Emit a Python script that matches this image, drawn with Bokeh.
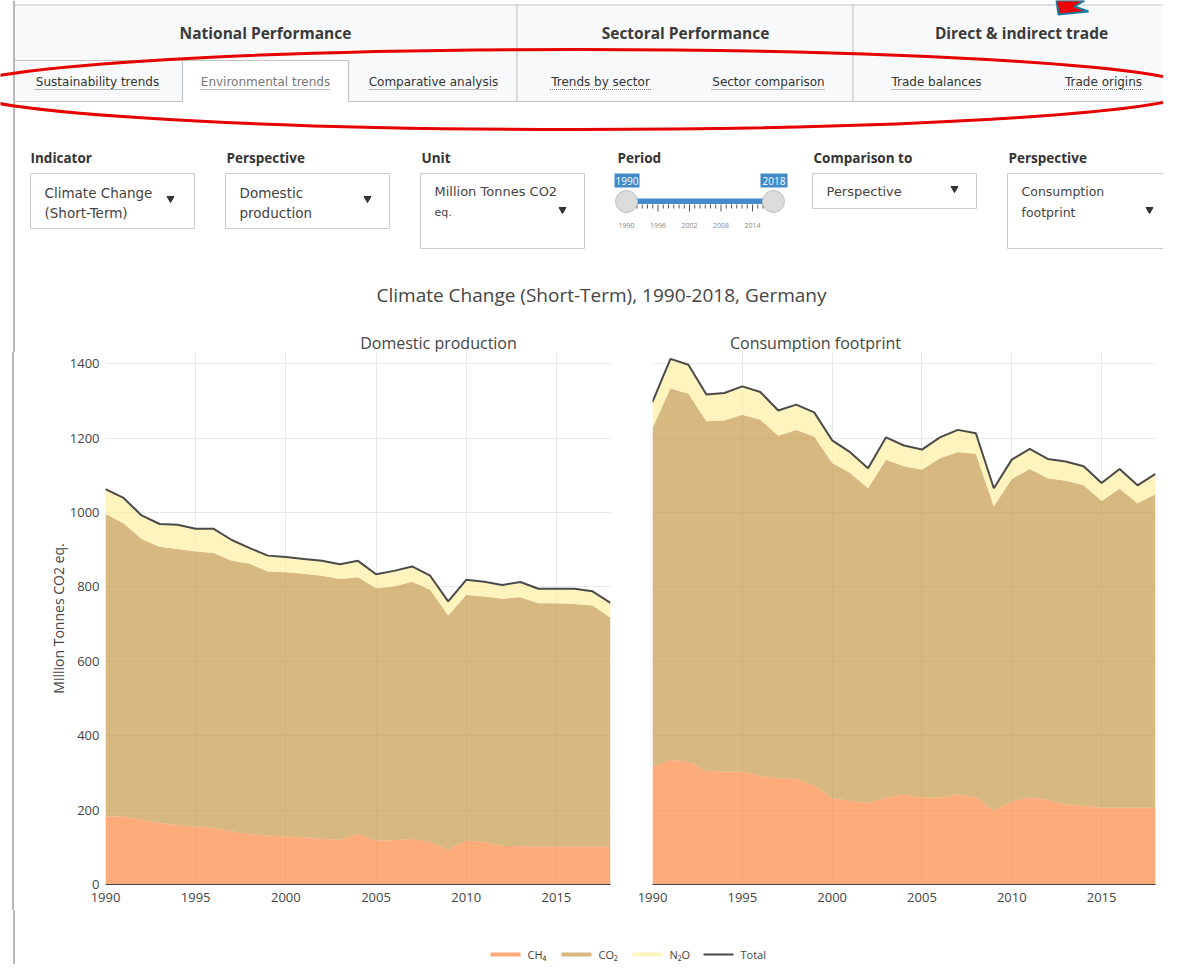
from bokeh.plotting import figure
from bokeh.models import ColumnDataSource, Range1d, FixedTicker, Spacer
from bokeh.layouts import column, row
from bokeh.core.properties import value
from bokeh.embed import file_html
from bokeh.resources import INLINE

# ---------------- data ----------------
years = list(range(1990, 2019))
ch4_dom = [183,183,174,165,160,156,152,143,135,132,129,127,123,120,135,118,119,123,114,94,118,114,104,103,103,103,103,103,103]
co2_dom = [813,788,755,743,742,739,739,727,727,709,710,708,707,701,691,678,682,691,678,629,660,660,664,669,653,653,651,647,614]
n2o_dom = [67,68,63,61,65,61,65,56,42,43,41,40,40,40,44,38,42,41,38,38,41,40,37,41,39,39,41,38,40]
ch4_con = [315,335,330,306,304,303,292,286,283,267,232,225,219,234,241,234,234,242,234,199,223,234,228,215,212,206,206,206,206]
co2_con = [912,998,989,939,943,960,957,920,939,937,901,881,846,908,883,881,912,920,924,817,867,883,864,870,861,825,858,819,843]
n2o_con = [70,80,78,72,74,76,75,68,68,65,61,56,54,60,56,54,56,60,55,49,52,54,52,52,51,48,53,48,55]
series_names = ["CH\u2084", "CO\u2082", "N\u2082O", "Total"]
x_ticks = [1990, 1995, 2000, 2005, 2010, 2015]
y_ticks = [0, 200, 400, 600, 800, 1000, 1200, 1400]
panel_titles = ["Domestic production", "Consumption footprint"]
chart_title = "Climate Change (Short-Term), 1990-2018, Germany"
y_label = "Million Tonnes CO2 eq."
nav_top = ["National Performance", "Sectoral Performance", "Direct & indirect trade"]
nav_sub = ["Sustainability trends", "Environmental trends", "Comparative analysis",
           "Trends by sector", "Sector comparison", "Trade balances", "Trade origins"]
ctrl_labels = ["Indicator", "Perspective", "Unit", "Period", "Comparison to", "Perspective"]
slider_labels = [1990, 1996, 2002, 2008, 2014]

# ---------------- style ----------------
C_CH4, C_CO2, C_N2O = "#fc8841", "#c49a4a", "#ffefa2"
FILL_ALPHA = 0.7
C_TOTAL = "#4a4a4a"
FONT = value("Open Sans")
UIFONT = value("DejaVu Sans")
BORDER = "#c4c4c4"
PAGE_BORDER = "#b8b8b8"
BLUE = "#428bca"

def blank(w, h, x0, x1, y0, y1):
    f = figure(width=w, height=h, x_range=Range1d(x0, x1), y_range=Range1d(y1, y0),
               x_axis_type=None, y_axis_type=None, output_backend="svg",
               toolbar_location=None, min_border=0)
    f.outline_line_color = None
    f.grid.visible = False
    return f

# ---------------- header (pixel coords) ----------------
hdr = blank(1163, 352, 0, 1163, 0, 352)
hdr.quad(left=[12.5], right=[14.5], top=[0], bottom=[400], fill_color=PAGE_BORDER, line_color=None)
# nav box
hdr.quad(left=[14.5], right=[1200], top=[4], bottom=[101], fill_color="#f7f9fb", line_color=None)
hdr.quad(left=[182], right=[348], top=[60], bottom=[102], fill_color="white", line_color=None)
hdr.segment(x0=[14, 14, 182, 348, 182, 14, 348, 516.5, 852.5],
            y0=[4.5, 60, 60, 60, 60, 101, 101, 4, 4],
            x1=[1200, 182, 348, 348, 182, 182, 1200, 516.5, 852.5],
            y1=[4.5, 60, 60, 101, 101, 101, 101, 101, 101],
            line_color=BORDER, line_width=1.2)
hdr.text(x=[265, 685, 1021], y=[32, 32, 32], text=nav_top, text_font=FONT,
         text_font_size="15.5px", text_font_style="bold", text_color="#3a3a3a",
         text_align="center", text_baseline="middle")
sub_x = [97, 265, 433, 600, 768, 936, 1103]
sub_w = [126, 130, 128, 101, 114, 90, 79]
sub_col = ["#333", "#777", "#333", "#333", "#333", "#333", "#333"]
hdr.text(x=sub_x, y=[81.5] * 7, text=nav_sub, text_font=UIFONT, text_font_size="12px",
         text_color=sub_col, text_align="center", text_baseline="middle")
hdr.segment(x0=[a - w / 2 for a, w in zip(sub_x, sub_w)], y0=[89] * 7,
            x1=[a + w / 2 for a, w in zip(sub_x, sub_w)], y1=[89] * 7,
            line_color="#777", line_width=1, line_dash="1 1")
# arrow (annotation at top right)
hdr.patch(x=[1056, 1084, 1074, 1088, 1058], y=[0, 0, 6, 11, 14], fill_color="#ee0000",
          line_color="#1b7ca3", line_width=2)

# controls
ctrl_x = [30, 226, 421, 617, 813, 1008]
hdr.text(x=ctrl_x, y=[157] * 6, text=ctrl_labels, text_font=FONT, text_font_size="13.5px",
         text_font_style="bold", text_color="#333", text_align="left", text_baseline="middle")
hdr.quad(left=[30, 225, 420, 812, 1007], right=[194, 389, 584, 976, 1171],
         top=[173, 173, 173, 173, 173], bottom=[228, 228, 248, 208, 248],
         fill_color="white", line_color="#cccccc", line_width=1)
hdr.text(x=[44, 44, 239, 239, 434, 434, 826, 1021, 1021],
         y=[192, 212, 192, 212, 191, 212, 191, 191, 212],
         text=["Climate Change", "(Short-Term)", "Domestic", "production",
               "Million Tonnes CO2", "eq.", "Perspective", "Consumption", "footprint"],
         text_font=UIFONT, text_font_size=["13.5px"] * 4 + ["13px", "11px", "13px", "12.5px", "12.5px"],
         text_color="#444", text_align="left", text_baseline="middle")
hdr.scatter(x=[170, 367, 562, 954, 1149], y=[198, 198, 209, 188, 209],
            marker="inverted_triangle", size=7, fill_color="#333", line_color="#333")
# slider
s0, s1 = 626, 773
sx = lambda yr: s0 + (yr - 1990) * (s1 - s0) / 28
hdr.quad(left=[s0], right=[s1], top=[198], bottom=[203.5], fill_color=BLUE, line_color=None)
hdr.segment(x0=[sx(y) for y in years], y0=[204] * 29, x1=[sx(y) for y in years],
            y1=[211 if (y - 1990) % 6 == 0 else 208 for y in years],
            line_color="#555", line_width=1)
hdr.text(x=[sx(y) for y in slider_labels], y=[225] * 5, text=[str(y) for y in slider_labels],
         text_font=FONT, text_font_size="7px", text_color="#888", text_align="center",
         text_baseline="middle")
hdr.scatter(x=[s0, s1], y=[201, 201], marker="circle", size=22, fill_color="#dcdcdc",
            line_color="#c0c0c0")
hdr.quad(left=[614, 760], right=[639, 787], top=[173, 173], bottom=[187, 187],
         fill_color=BLUE, line_color=None)
hdr.text(x=[626.5, 773.5], y=[180.5, 180.5], text=["1990", "2018"], text_font=FONT,
         text_font_size="10px", text_color="white", text_align="center", text_baseline="middle")
# titles
hdr.text(x=[601], y=[294], text=[chart_title], text_font=FONT, text_font_size="19px",
         text_color="#444", text_align="center", text_baseline="middle")
hdr.text(x=[438, 815], y=[342, 342], text=panel_titles, text_font=FONT, text_font_size="16px",
         text_color="#444", text_align="center", text_baseline="middle")
# red ellipse annotation
hdr.ellipse(x=[578], y=[89], width=[1236], height=[80], fill_color=None,
            line_color="#e60000", line_width=3)

# ---------------- charts ----------------
def chart(w, bl, br, ch4, co2, n2o, show_y):
    total = [a + b + c for a, b, c in zip(ch4, co2, n2o)]
    src = ColumnDataSource(dict(year=years, ch4=ch4, co2=co2, n2o=n2o, total=total))
    f = figure(width=w, height=558, x_range=Range1d(1990, 2018), y_range=Range1d(0, 1430),
               output_backend="svg", toolbar_location=None,
               min_border_left=bl, min_border_right=br, min_border_top=0, min_border_bottom=26)
    f.outline_line_color = None
    f.varea_stack(["ch4", "co2", "n2o"], x="year", fill_color=[C_CH4, C_CO2, C_N2O],
                  fill_alpha=FILL_ALPHA, source=src)
    f.line("year", "total", source=src, line_color=C_TOTAL, line_width=2)
    f.xaxis.ticker = FixedTicker(ticks=x_ticks)
    f.yaxis.ticker = FixedTicker(ticks=y_ticks)
    f.grid.grid_line_color = "#e8e8e8"
    for ax in (f.xaxis, f.yaxis):
        ax.major_tick_line_color = None
        ax.minor_tick_line_color = None
        ax.major_label_text_font = "Open Sans"
        ax.major_label_text_font_size = "13px"
        ax.major_label_text_color = "#444"
    f.xaxis.axis_line_color = "#444"
    f.xaxis.major_label_standoff = 2
    f.yaxis.axis_line_color = None
    f.yaxis.major_label_standoff = 0
    if show_y:
        f.yaxis.axis_label = y_label
        f.yaxis.axis_label_text_font = "Open Sans"
        f.yaxis.axis_label_text_font_style = "normal"
        f.yaxis.axis_label_text_font_size = "14px"
        f.yaxis.axis_label_text_color = "#444"
        f.yaxis.axis_label_standoff = -1
    else:
        f.yaxis.visible = False
    return f

strip = Spacer(width=28, height=558, styles={
    "background": "linear-gradient(to right, #ffffff 0px, #ffffff 12.5px, #b8b8b8 12.5px, "
                  "#b8b8b8 14.5px, #ffffff 14.5px, #ffffff 28px)"})
left = chart(592, 77, 10, ch4_dom, co2_dom, n2o_dom, True)
right = chart(543, 32, 8, ch4_con, co2_con, n2o_con, False)

# ---------------- legend ----------------
leg = blank(1163, 54, 0, 1163, 910, 964)
leg.quad(left=[12.5], right=[14.5], top=[900], bottom=[1000], fill_color=PAGE_BORDER, line_color=None)
lx = [490, 561, 632, 703]
leg.segment(x0=lx[:3], y0=[954] * 3, x1=[a + 30 for a in lx[:3]], y1=[954] * 3,
            line_color=[C_CH4, C_CO2, C_N2O], line_alpha=FILL_ALPHA, line_width=4)
leg.segment(x0=[lx[3]], y0=[954], x1=[lx[3] + 30], y1=[954], line_color=C_TOTAL, line_width=2)
leg.text(x=[a + 37 for a in lx], y=[954] * 4, text=series_names, text_font=FONT,
         text_font_size="11px", text_color="#444", text_align="left", text_baseline="middle")

layout = column(hdr, row(strip, left, right), leg)
open("out.html", "w").write(file_html(layout, INLINE))
